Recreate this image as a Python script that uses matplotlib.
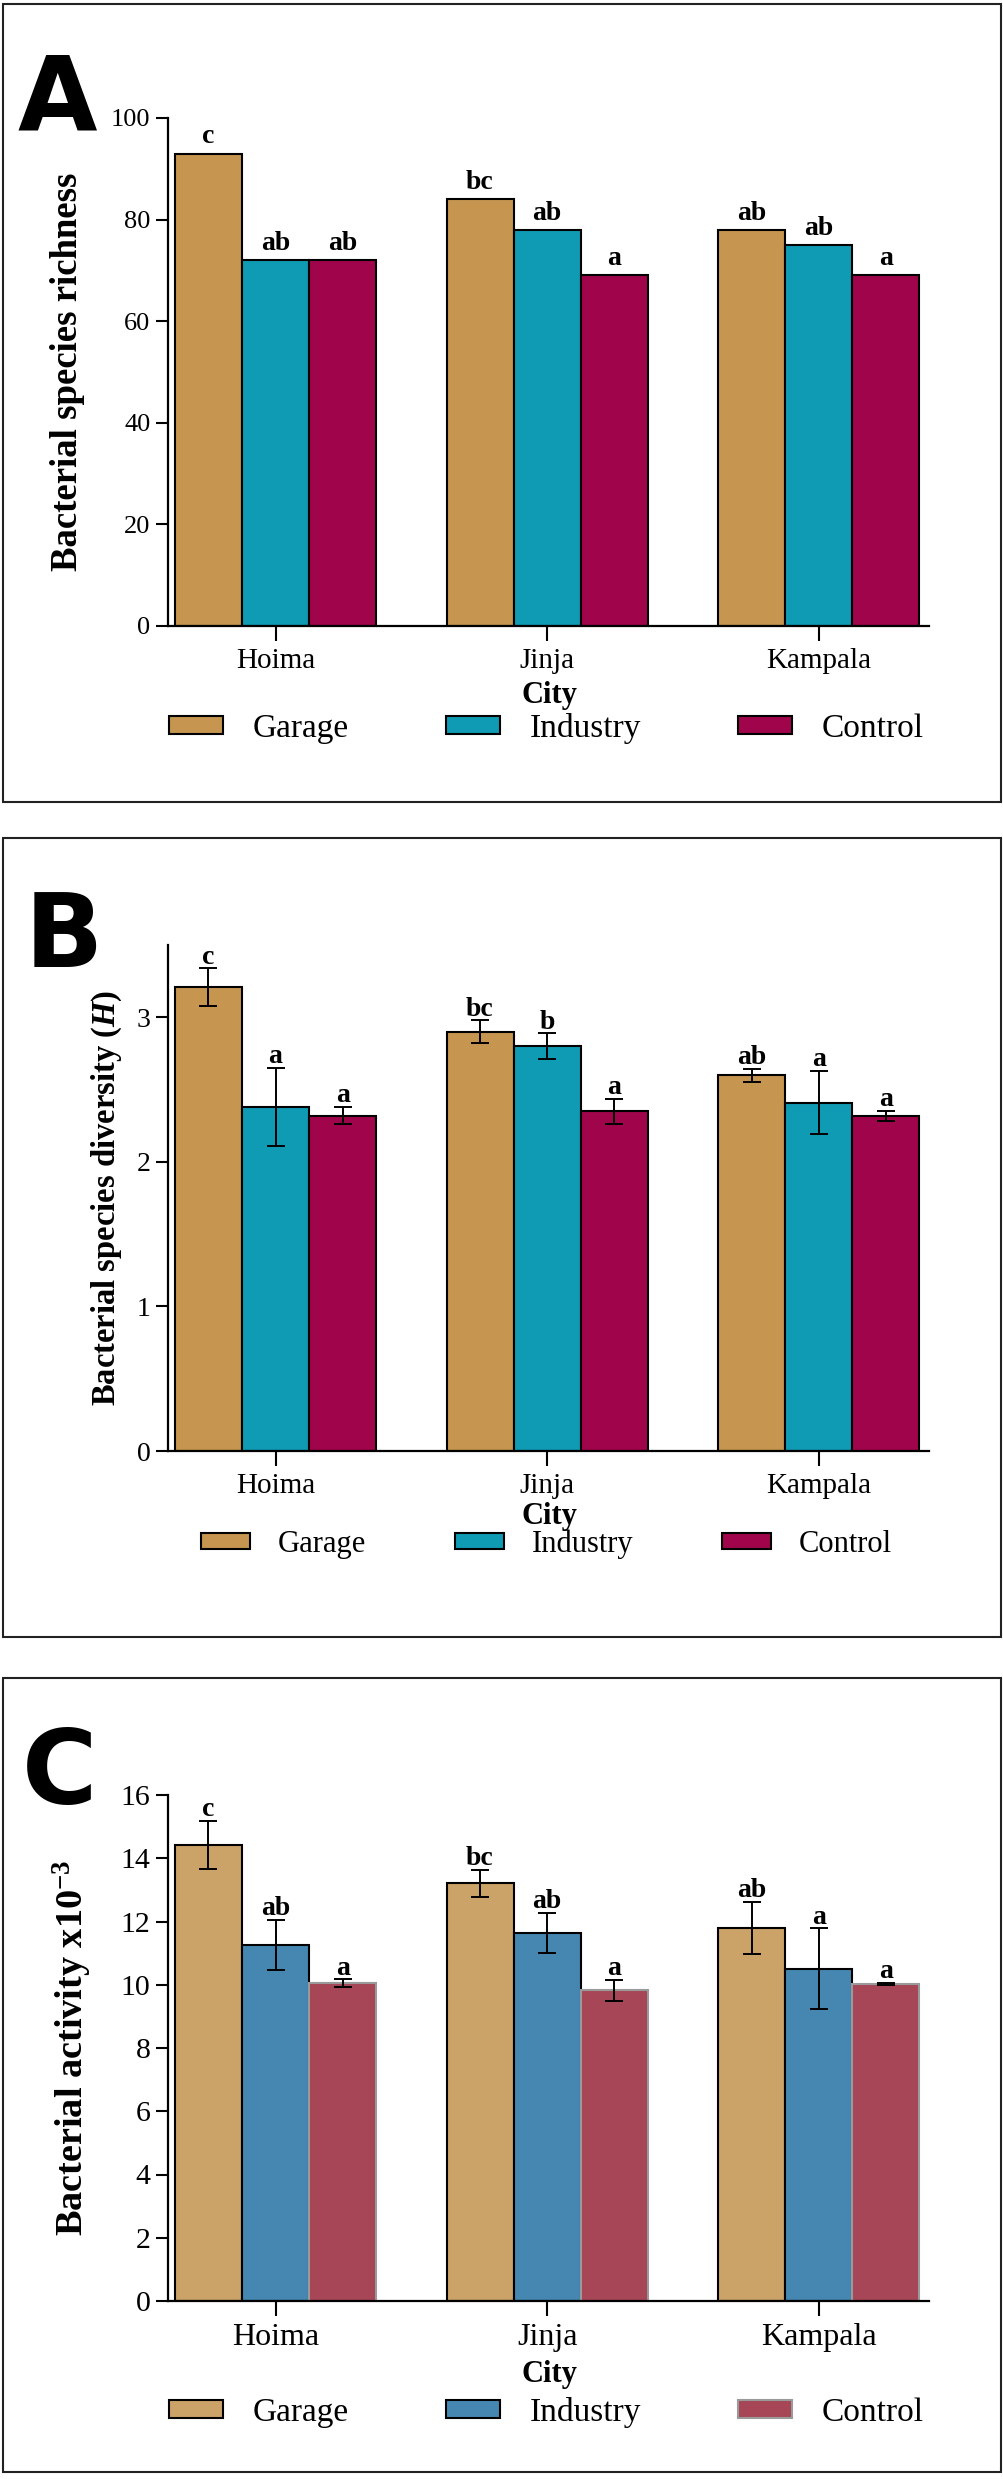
import numpy as np
import matplotlib
matplotlib.use("Agg")
import matplotlib.pyplot as plt
from matplotlib.patches import Patch, Rectangle

plt.rcParams['font.family'] = ['Liberation Serif', 'DejaVu Serif']
plt.rcParams['mathtext.fontset'] = 'custom'
plt.rcParams['mathtext.rm'] = 'Liberation Serif:bold'
plt.rcParams['mathtext.bf'] = 'Liberation Serif:bold'
plt.rcParams['mathtext.it'] = 'Liberation Serif:italic:bold'

cities = ['Hoima', 'Jinja', 'Kampala']
treatments = ['Garage', 'Industry', 'Control']

# A - species richness
richness_garage = [93, 84, 78]
richness_industry = [72, 78, 75]
richness_control = [72, 69, 69]
letters_a = [['c', 'bc', 'ab'], ['ab', 'ab', 'ab'], ['ab', 'a', 'a']]

# B - species diversity (H)
diversity_garage = [3.21, 2.90, 2.60]
diversity_industry = [2.38, 2.80, 2.41]
diversity_control = [2.32, 2.35, 2.32]
diversity_garage_err = [0.13, 0.08, 0.045]
diversity_industry_err = [0.27, 0.09, 0.22]
diversity_control_err = [0.06, 0.085, 0.035]
letters_b = [['c', 'bc', 'ab'], ['a', 'b', 'a'], ['a', 'a', 'a']]

# C - bacterial activity
activity_garage = [14.43, 13.21, 11.80]
activity_industry = [11.26, 11.64, 10.51]
activity_control = [10.05, 9.83, 10.03]
activity_garage_err = [0.76, 0.43, 0.83]
activity_industry_err = [0.79, 0.63, 1.27]
activity_control_err = [0.12, 0.33, 0.04]
letters_c = [['c', 'bc', 'ab'], ['ab', 'ab', 'a'], ['a', 'a', 'a']]

cols_ab = ['#C69650', '#109BB4', '#A0054B']
cols_c = ['#CBA368', '#4587B0', '#A64656']

W, H = 1004, 2479
fig = plt.figure(figsize=(W / 100, H / 100), dpi=100)


def draw_panel(ax, vals, errs, letters, colors, edges, ylim, yticks,
               ytick_fs, xtick_fs, ylabel, ylabel_fs, ylabel_x,
               city_y, leg_y, leg_fs, letter_off):
    x = np.arange(len(cities))
    w = 0.247
    for i in range(3):
        xi = x + (i - 1) * w
        ax.bar(xi, vals[i], width=w, color=colors[i], edgecolor=edges[i],
               linewidth=1.5, zorder=2)
        if errs is not None:
            ax.errorbar(xi, vals[i], yerr=errs[i], fmt='none', ecolor='black',
                        elinewidth=1.4, capsize=6.5, capthick=1.4, zorder=3)
            tops = np.array(vals[i]) + np.array(errs[i])
        else:
            tops = np.array(vals[i])
        for j in range(len(cities)):
            ax.annotate(letters[i][j], (xi[j], tops[j]), xytext=(0, letter_off),
                        textcoords='offset points', ha='center', va='bottom',
                        fontsize=20, fontweight='bold', zorder=4)
    ax.set_xlim(-0.396, 2.408)
    ax.set_ylim(*ylim)
    ax.set_yticks(yticks)
    ax.set_xticks(x)
    ax.set_xticklabels(cities)
    for s in ['top', 'right']:
        ax.spines[s].set_visible(False)
    for s in ['left', 'bottom']:
        ax.spines[s].set_linewidth(1.6)
    ax.tick_params(axis='y', length=8.6, width=1.5, pad=4, labelsize=ytick_fs)
    ax.tick_params(axis='x', length=11, width=1.5, pad=5, labelsize=xtick_fs)
    ax.set_ylabel(ylabel, fontsize=ylabel_fs, fontweight='bold', va='center')
    ax.yaxis.set_label_coords(ylabel_x, 0.5)
    ax.set_xlabel('City', fontsize=22, fontweight='bold', va='center')
    ax.xaxis.set_label_coords(0.501, city_y)
    handles = [Patch(facecolor=colors[i], edgecolor=edges[i], linewidth=1.5)
               for i in range(3)]
    ax.legend(handles, treatments, loc='center', bbox_to_anchor=(0.497, leg_y),
              ncol=3, frameon=False, fontsize=leg_fs, handlelength=1.62,
              handleheight=0.45, handletextpad=0.9, columnspacing=2.9)


ax_a = fig.add_axes([168 / W, 1 - 626 / H, 761.5 / W, 508 / H])
draw_panel(ax_a, [richness_garage, richness_industry, richness_control], None,
           letters_a, cols_ab, ['black'] * 3, (0, 100), [0, 20, 40, 60, 80, 100],
           19, 21, 'Bacterial species richness', 26.5, -0.132,
           -0.136, -0.201, 24, 3)

ax_b = fig.add_axes([168 / W, 1 - 1451 / H, 761.5 / W, 506 / H])
draw_panel(ax_b, [diversity_garage, diversity_industry, diversity_control],
           [diversity_garage_err, diversity_industry_err, diversity_control_err],
           letters_b, cols_ab, ['black'] * 3, (0, 3.5), [0, 1, 2, 3],
           20, 21, 'Bacterial species diversity ($\\mathit{H}$)', 23.5, -0.080,
           -0.130, -0.184, 22, -1)

ax_c = fig.add_axes([168 / W, 1 - 2301 / H, 761.5 / W, 506 / H])
draw_panel(ax_c, [activity_garage, activity_industry, activity_control],
           [activity_garage_err, activity_industry_err, activity_control_err],
           letters_c, cols_c, ['black', 'black', '#9a9a9a'], (0, 16),
           [0, 2, 4, 6, 8, 10, 12, 14, 16],
           21.5, 23, 'Bacterial activity x10$^{-3}$', 27.5, -0.126,
           -0.146, -0.221, 24, -1)

# panel frames and letters
for top, bot in [(4, 802), (838, 1637), (1678, 2472)]:
    fig.add_artist(Rectangle((3 / W, 1 - bot / H), 998 / W, (bot - top) / H,
                             transform=fig.transFigure, fill=False,
                             edgecolor='#222222', linewidth=1.5))

for lab, lx, base in [('A', 18, 130), ('B', 25, 967), ('C', 22, 1804)]:
    fig.text(lx / W, 1 - base / H, lab, family='DejaVu Sans', fontweight='bold',
             fontsize=74, ha='left', va='baseline')

fig.savefig('out.png', dpi=100)
